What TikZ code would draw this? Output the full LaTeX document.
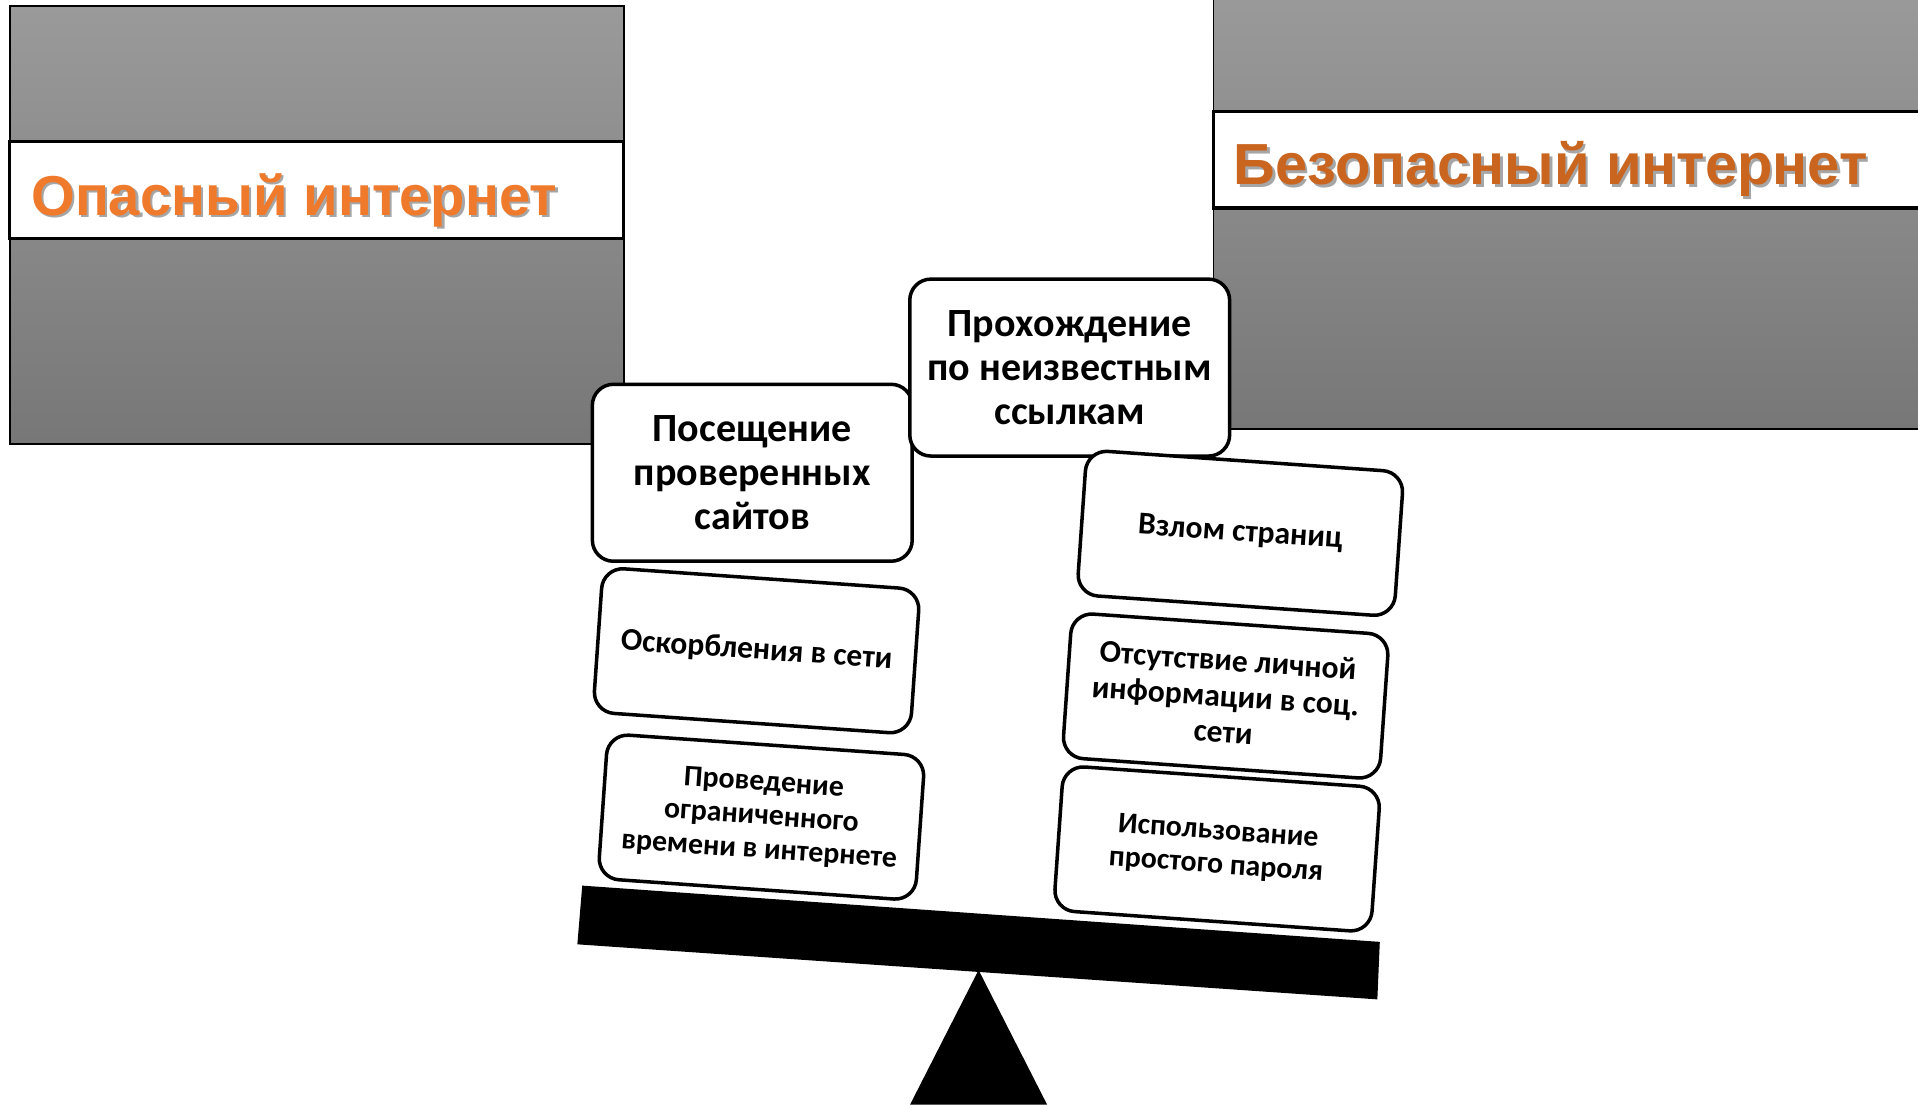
\documentclass[tikz,border=0pt]{standalone}
\usepackage{fontspec}
\setmainfont{Carlito}
\newfontfamily\titlefont{Liberation Sans}

\definecolor{panelTop}{HTML}{9A9A9A}
\definecolor{panelBottom}{HTML}{777777}
\definecolor{dangerOrange}{HTML}{F07A2C}
\definecolor{safeOrange}{HTML}{C9651F}

\begin{document}
\begin{tikzpicture}[x=0.012232cm,
					y=-0.012232cm,
					%thick,
					panel/.style={draw=black,line width=0.5pt,top color=panelTop,bottom color=panelBottom},
					band/.style={draw=black,line width=0.9pt,fill=white},
					title/.style={font=\titlefont\bfseries\fontsize{16}{18}\selectfont,anchor=base west,inner sep=0pt},
					shadow/.style={title,text=black,opacity=0.35},
					big card/.style={draw,fill=white,rounded corners=6pt,line width=1pt,
						minimum width=3.2cm,minimum height=1.77cm,align=center,
						font=\bfseries\fontsize{11.4}{12.6}\selectfont},
					card/.style={draw,fill=white,rounded corners=6pt,line width=1pt,rotate=-4,
						minimum width=3.18cm,minimum height=1.45cm,align=center,
						font=\bfseries\fontsize{9}{10.2}\selectfont},
					small card/.style={card,font=\bfseries\fontsize{8.5}{9.6}\selectfont}]

  \useasboundingbox (0,0) rectangle (1568,903);

  % two panels
  \shade[panel] (8,5) rectangle (510,363);
  \draw[band] (8,116) rectangle (510,195);
  \shade[panel] (992,-5) rectangle (1580,351);
  \draw[band] (992,91) rectangle (1580,170);

  \node[shadow] (dangerS) at (27,178) {Опасный интернет};
  \node[title,text=dangerOrange] (danger) at (25,176) {Опасный интернет};
  \node[shadow,font=\titlefont\bfseries\fontsize{16.5}{18}\selectfont] (safeS) at (1010,153) {Безопасный интернет};
  \node[title,font=\titlefont\bfseries\fontsize{16.5}{18}\selectfont,text=safeOrange] (safe) at (1008,151) {Безопасный интернет};

  % top cards
  \node[big card] (visit) at (615,386.5) {Посещение\\проверенных\\сайтов};
  \node[big card] (links) at (874.5,300.5) {Прохождение\\по неизвестным\\ссылкам};

  % left stack
  \node[card] (insult) at (618.5,532) {Оскорбления в сети};
  \node[small card] (time) at (622.5,668) {Проведение\\ограниченного\\времени в интернете};

  % right stack
  \node[card] (hack) at (1014,436) {Взлом страниц};
  \node[card] (info) at (1002,569) {Отсутствие личной\\информации в соц.\\сети};
  \node[small card] (pass) at (995,694) {Использование\\простого пароля};

  % beam and fulcrum
  \fill (476,724) -- (1128,770) -- (1126,817) -- (472,772) -- cycle;
  \fill (800,793) -- (856,903) -- (744,903) -- cycle;
\end{tikzpicture}
\end{document}
